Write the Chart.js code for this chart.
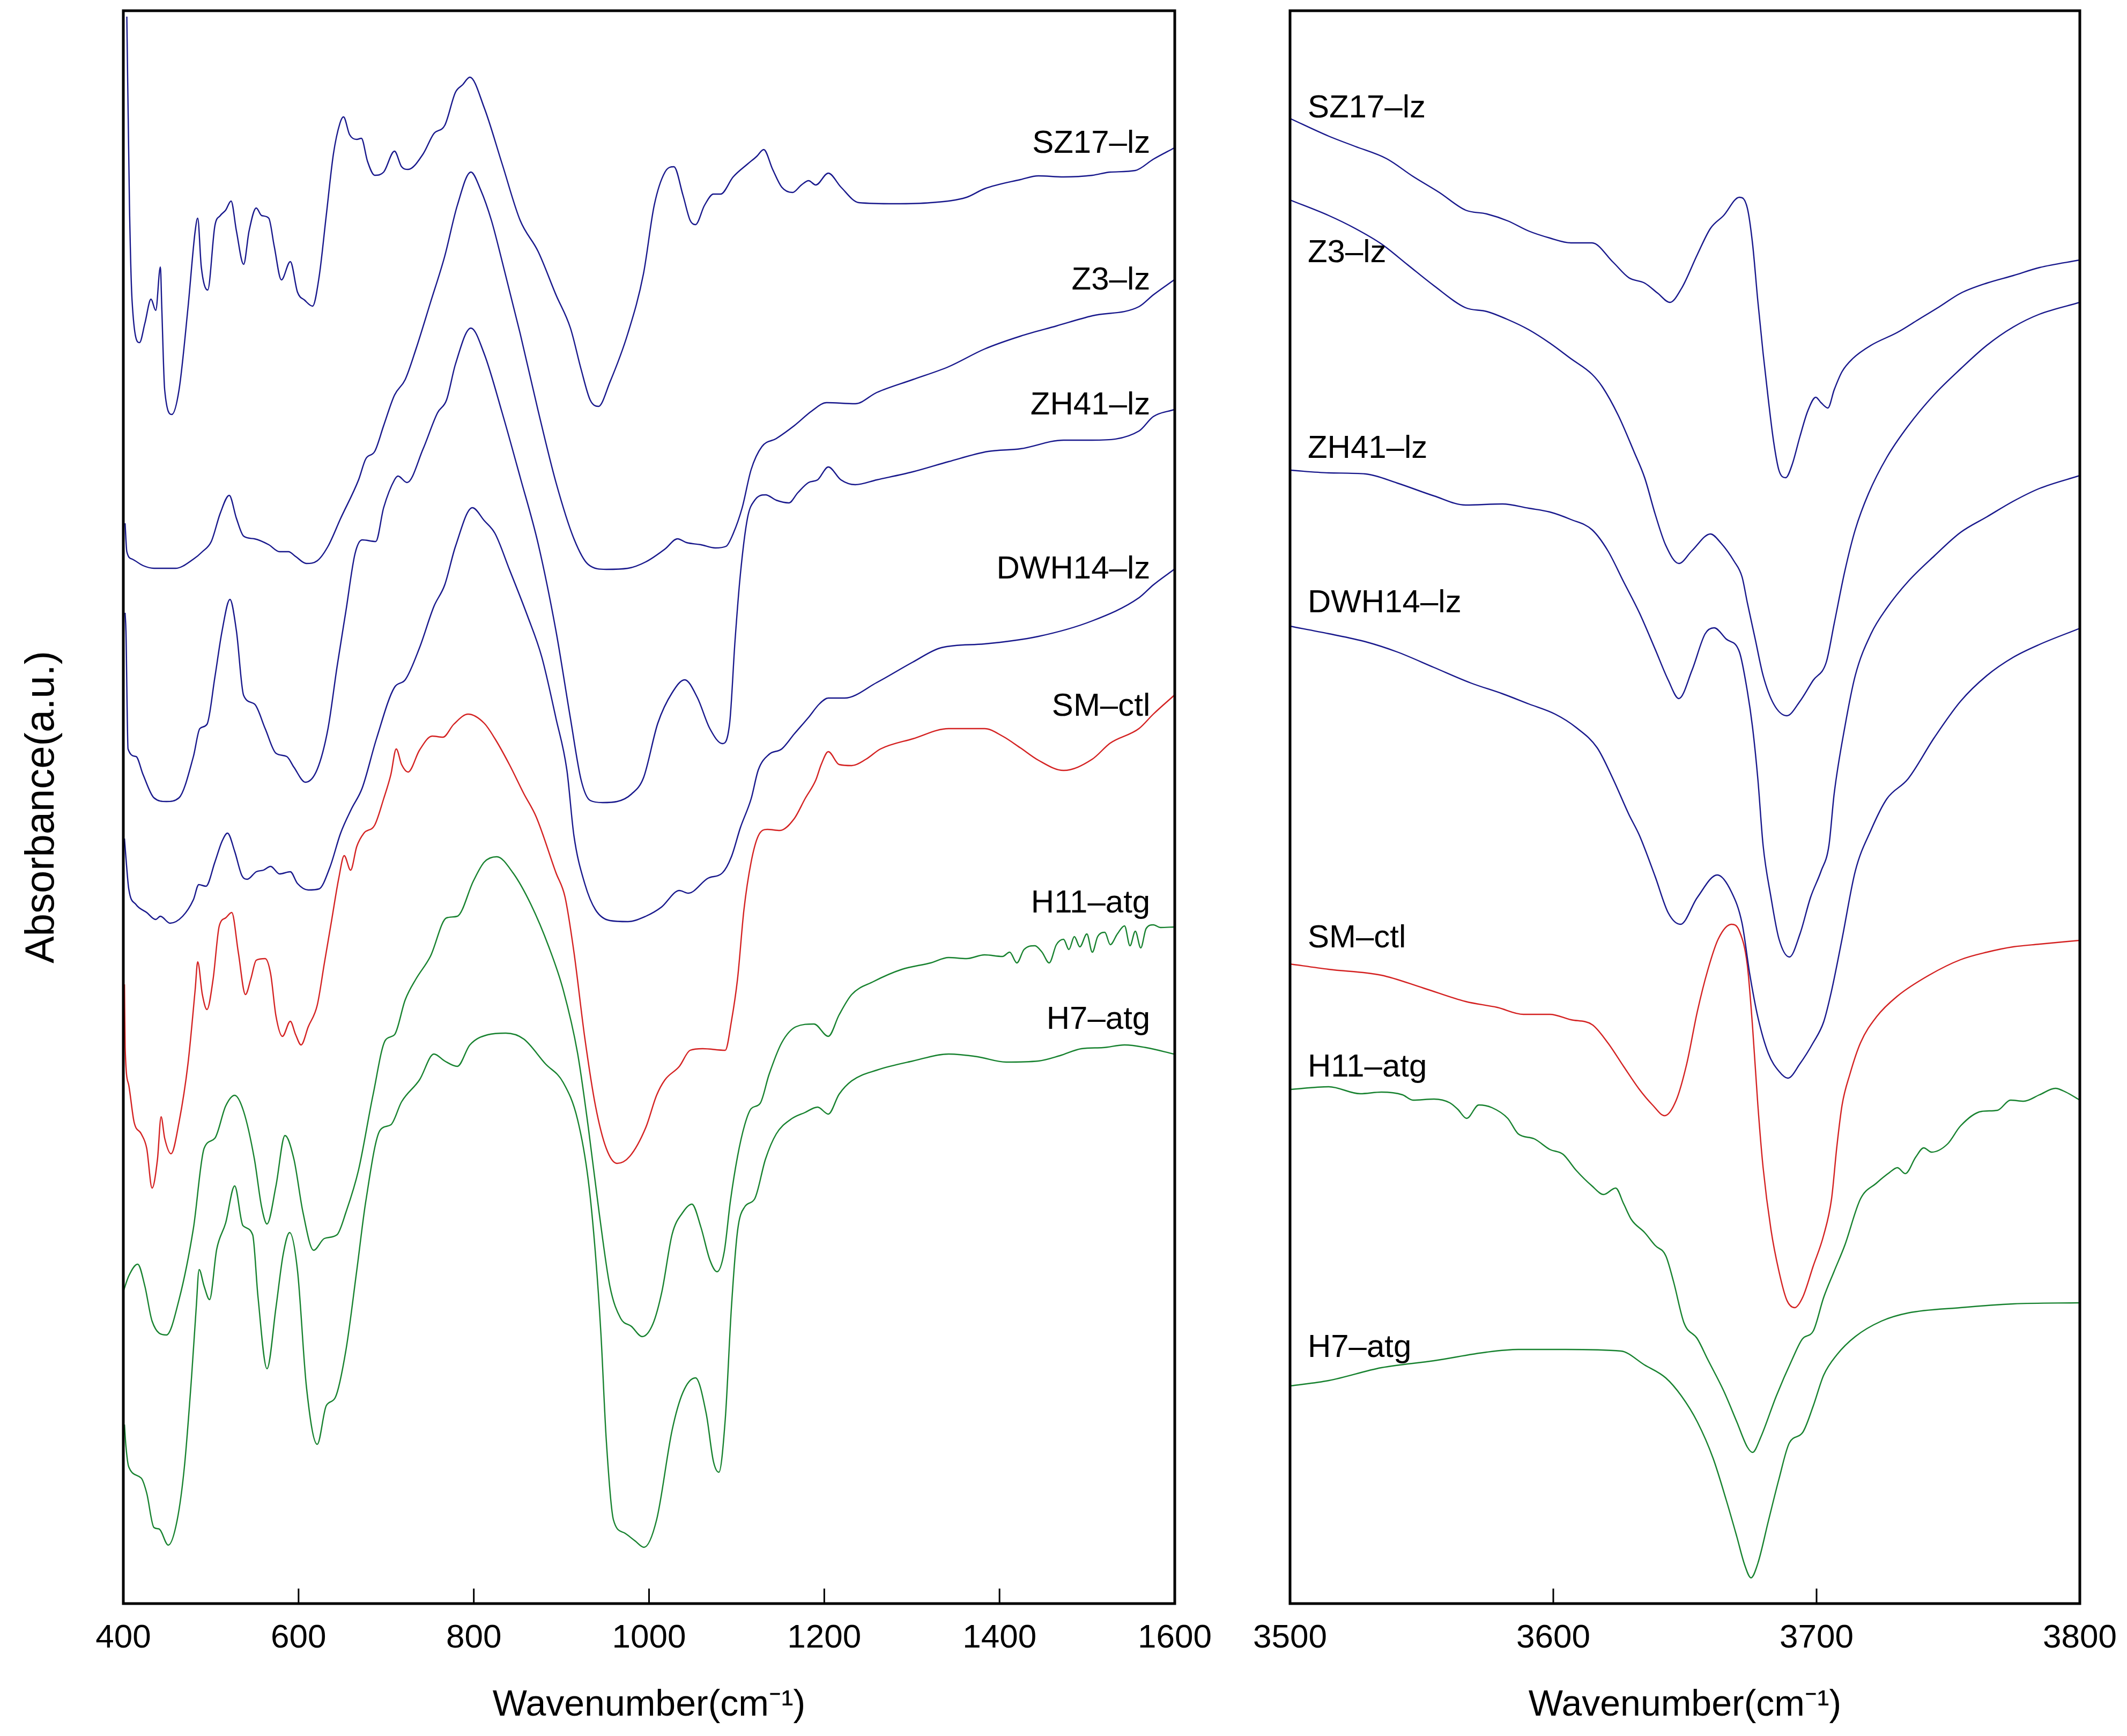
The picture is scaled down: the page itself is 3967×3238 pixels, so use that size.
<!DOCTYPE html>
<html><head><meta charset="utf-8">
<script src="https://cdn.jsdelivr.net/npm/chart.js@4.4.1/dist/chart.umd.min.js"></script>
<style>
html,body{margin:0;padding:0;background:#fff;overflow:hidden;}
#wrap{position:relative;width:3967px;height:3238px;background:#fff;}
canvas{position:absolute;top:0;}
#c1{left:0;width:2300px;height:3238px;}
#c2{left:2300px;width:1667px;height:3238px;}
</style></head><body>
<div id="wrap"><canvas id="c1" width="2300" height="3238"></canvas><canvas id="c2" width="1667" height="3238"></canvas></div>
<script>
// ---------------- DATA (wavenumber cm-1, absorbance a.u. with vertical offsets) ----------------
const seriesNames = ["SZ17\u2013lz","Z3\u2013lz","ZH41\u2013lz","DWH14\u2013lz","SM\u2013ctl","H11\u2013atg","H7\u2013atg"];
const leftTicks = [400,600,800,1000,1200,1400,1600];
const rightTicks = [3500,3600,3700,3800];

const L_SZ17 = [[404,2.96],[407,2.61],[410,2.43],[418.5,2.352],[424.6,2.388],[431.6,2.433],[437,2.412],[442.3,2.493],[443.9,2.417],[447.2,2.264],[455.4,2.218],[463.6,2.264],[473.8,2.417],[482,2.56],[484.9,2.584],[489,2.493],[496.3,2.45],[504.5,2.57],[510.7,2.589],[516.8,2.599],[523,2.616],[529.1,2.56],[537.3,2.498],[543.5,2.56],[551.7,2.603],[557.8,2.589],[566,2.584],[572.2,2.532],[580.4,2.469],[590.6,2.503],[598.8,2.446],[607,2.431],[616,2.42],[623.4,2.474],[631.6,2.589],[639.8,2.704],[647.2,2.761],[651.3,2.773],[658.2,2.74],[666.4,2.731],[671.7,2.733],[678.7,2.69],[686.9,2.664],[697.1,2.67],[709.5,2.709],[717.6,2.68],[725,2.675],[742.2,2.704],[754.5,2.742],[766.8,2.757],[779.1,2.819],[787.3,2.833],[795.5,2.847],[811.9,2.79],[832.4,2.685],[852.9,2.58],[873.4,2.522],[893.8,2.441],[910.3,2.379],[922.5,2.302],[932.8,2.245],[942.2,2.233],[955.3,2.278],[975.8,2.369],[993.6,2.48],[1005.9,2.608],[1018.2,2.67],[1028.4,2.68],[1038.7,2.627],[1046.9,2.58],[1053,2.572],[1063.3,2.608],[1073.5,2.629],[1081.7,2.629],[1096,2.661],[1112.4,2.685],[1122.7,2.699],[1130.9,2.712],[1141.1,2.675],[1151.4,2.642],[1163.7,2.632],[1173.9,2.646],[1182.1,2.654],[1190.3,2.646],[1204.6,2.668],[1219,2.642],[1239.5,2.613],[1280.5,2.611],[1321.4,2.613],[1362.4,2.623],[1382.9,2.639],[1423.9,2.656],[1444.4,2.663],[1473,2.661],[1506,2.664],[1526.4,2.67],[1555,2.673],[1575.5,2.694],[1599.3,2.715]];

const L_Z3 = [[402,2.015],[404,1.962],[410.3,1.948],[422.6,1.936],[434.9,1.931],[459.5,1.931],[479.9,1.948],[490.2,1.962],[500.4,1.981],[510.7,2.034],[520.9,2.067],[529.1,2.024],[537.3,1.991],[549.6,1.986],[566,1.975],[578.3,1.962],[588.5,1.962],[596.7,1.953],[609,1.94],[621.3,1.945],[633.6,1.972],[648,2.024],[668.5,2.096],[676.7,2.135],[686.9,2.149],[697.1,2.197],[709.5,2.254],[721.7,2.283],[734,2.34],[750.4,2.426],[766.8,2.513],[781.2,2.608],[796.7,2.67],[807.8,2.637],[820.1,2.58],[832.4,2.503],[852.9,2.369],[873.4,2.225],[893.8,2.091],[914.3,1.986],[930.7,1.938],[951.2,1.929],[975.8,1.931],[996.3,1.943],[1018.2,1.967],[1032.5,1.986],[1042.8,1.979],[1059.2,1.975],[1075.6,1.969],[1087.9,1.972],[1096.1,1.996],[1106.3,2.044],[1116.5,2.115],[1128.8,2.158],[1145.2,2.173],[1165.7,2.197],[1186.2,2.225],[1202.6,2.24],[1235.4,2.238],[1260,2.259],[1301,2.283],[1341.9,2.307],[1382.9,2.34],[1423.9,2.364],[1464.9,2.383],[1505.9,2.402],[1559.1,2.419],[1575.5,2.441],[1599.3,2.469]];

const L_ZH41 = [[402,1.848],[403,1.814],[405.4,1.594],[414.4,1.58],[422.6,1.546],[434.9,1.503],[449.2,1.496],[463.6,1.503],[480,1.58],[487.3,1.632],[495.5,1.64],[504.5,1.728],[512.7,1.814],[521.7,1.873],[529.1,1.814],[537.3,1.694],[549.6,1.678],[561.9,1.632],[574.2,1.586],[586.5,1.58],[594.7,1.56],[607.8,1.532],[621.3,1.556],[633.6,1.632],[643.9,1.747],[654.1,1.852],[664.4,1.958],[672.6,1.984],[688.1,1.981],[697.1,2.044],[709.5,2.096],[713.5,2.103],[723.8,2.091],[742.2,2.154],[758.6,2.221],[768.9,2.245],[779.1,2.312],[796.7,2.379],[811.9,2.331],[832.4,2.221],[852.9,2.101],[873.4,1.977],[893.8,1.814],[910.3,1.651],[922.5,1.536],[932.8,1.498],[947.1,1.494],[963.5,1.496],[980,1.51],[993.6,1.54],[1010,1.642],[1026.4,1.699],[1040.7,1.723],[1055.1,1.69],[1069.4,1.632],[1083.8,1.604],[1092,1.642],[1098.1,1.795],[1104.2,1.919],[1112.4,2.025],[1120.6,2.058],[1133,2.068],[1145.2,2.058],[1159.6,2.053],[1169.8,2.072],[1182.1,2.091],[1192.4,2.096],[1204.6,2.12],[1219,2.096],[1235.4,2.087],[1260,2.096],[1301,2.111],[1341.9,2.13],[1387,2.149],[1423.9,2.154],[1473.1,2.17],[1505.9,2.17],[1559.1,2.187],[1575.5,2.214],[1599.3,2.227]];

const L_DWH14 = [[401.3,1.427],[402.9,1.393],[406.2,1.333],[414.4,1.304],[426.7,1.289],[436.9,1.276],[442.3,1.282],[453.3,1.269],[467.7,1.282],[480,1.313],[486.1,1.341],[494.3,1.338],[504.5,1.383],[512.7,1.422],[518.9,1.437],[527.1,1.403],[535.3,1.358],[541.4,1.351],[551.7,1.365],[559.9,1.368],[568.1,1.375],[578.3,1.361],[590.6,1.365],[598.8,1.343],[611.1,1.331],[623.4,1.333],[635.7,1.373],[648,1.437],[660.3,1.482],[672.6,1.521],[688.9,1.613],[709.5,1.709],[721.7,1.723],[738.1,1.783],[754.5,1.86],[766.8,1.9],[779.1,1.972],[798.4,2.044],[811.9,2.02],[824.2,1.996],[840.6,1.929],[861.1,1.843],[877.5,1.766],[893.8,1.651],[906.2,1.555],[914.3,1.432],[926.6,1.343],[938.9,1.294],[955.3,1.274],[975.8,1.272],[996.3,1.282],[1014.1,1.299],[1034.6,1.33],[1044.8,1.325],[1067.4,1.353],[1083.8,1.363],[1094,1.393],[1104.2,1.447],[1116.5,1.501],[1124.7,1.555],[1137,1.584],[1151.4,1.594],[1165.7,1.622],[1182.1,1.653],[1194.4,1.678],[1204.6,1.689],[1223.1,1.689],[1260,1.718],[1301,1.756],[1333.7,1.783],[1382.9,1.79],[1444.4,1.804],[1505.9,1.833],[1559.1,1.876],[1575.5,1.9],[1599.3,1.929]];

const L_SMctl = [[401.3,1.155],[402.1,1.037],[406.2,0.967],[412.3,0.898],[420.5,0.876],[426.7,0.849],[432.8,0.775],[439,0.829],[443.1,0.908],[447.2,0.868],[454.5,0.839],[463.6,0.898],[473.8,1.007],[482,1.145],[484.9,1.197],[490.2,1.136],[495.5,1.108],[502.5,1.165],[509.5,1.264],[516.8,1.279],[523.8,1.289],[531.2,1.215],[539.4,1.136],[545.5,1.165],[551.7,1.2],[561.9,1.203],[568.1,1.175],[574.2,1.096],[581.6,1.058],[590.6,1.086],[596.7,1.061],[602.9,1.042],[611.1,1.076],[621.3,1.116],[629.5,1.195],[637.7,1.274],[645.9,1.353],[652.1,1.395],[659.4,1.368],[666.4,1.412],[674.6,1.437],[686.9,1.452],[697.1,1.501],[705.3,1.546],[711.5,1.594],[717.6,1.565],[725,1.551],[738.1,1.592],[752.5,1.618],[764.8,1.616],[777.1,1.64],[793.5,1.659],[811.9,1.642],[824.2,1.613],[840.6,1.565],[857,1.511],[871.3,1.467],[893.8,1.363],[904.1,1.318],[914.3,1.215],[926.6,1.056],[938.9,0.928],[951.2,0.849],[963.5,0.821],[977.9,0.834],[996.3,0.888],[1008.6,0.948],[1018.2,0.977],[1034.6,1.002],[1046.9,1.032],[1061.2,1.035],[1087,1.032],[1094,1.086],[1101,1.165],[1108.3,1.294],[1116.5,1.383],[1124.7,1.432],[1135,1.444],[1149.3,1.442],[1165.7,1.464],[1178,1.501],[1190.3,1.536],[1196.5,1.565],[1204.6,1.589],[1217,1.565],[1231.3,1.563],[1247.7,1.575],[1264.1,1.594],[1301,1.613],[1341.9,1.632],[1382.9,1.632],[1403.4,1.618],[1423.9,1.596],[1444.4,1.573],[1473.1,1.554],[1505.9,1.575],[1526.4,1.605],[1559.1,1.632],[1575.5,1.659],[1599.3,1.694]];

const L_H11 = [[400,0.582],[406.2,0.611],[416.4,0.633],[424.6,0.592],[432.8,0.527],[449.2,0.501],[463.6,0.567],[480,0.7],[492.2,0.849],[504.5,0.868],[516.8,0.928],[527.1,0.948],[537.3,0.918],[549.6,0.829],[557.8,0.74],[564,0.708],[574.2,0.779],[584.5,0.873],[594.7,0.829],[605,0.73],[617.2,0.659],[629.5,0.681],[643.9,0.688],[654.1,0.73],[668.5,0.809],[684.9,0.948],[699.2,1.051],[709.5,1.061],[721.7,1.126],[734,1.165],[750.4,1.207],[768.9,1.279],[781.2,1.282],[799.6,1.348],[811.9,1.383],[826.2,1.393],[844.7,1.363],[865.2,1.304],[885.6,1.225],[902,1.145],[918.4,1.027],[930.7,0.888],[943,0.73],[955.3,0.592],[967.6,0.532],[979.9,0.517],[992.2,0.498],[1004.5,0.522],[1014.7,0.582],[1026.4,0.689],[1038.7,0.73],[1048.9,0.745],[1059.2,0.702],[1069.4,0.641],[1077.6,0.619],[1085.8,0.656],[1092.8,0.75],[1101,0.834],[1109.2,0.893],[1116.5,0.923],[1126.8,0.933],[1137,0.987],[1151.4,1.046],[1167.8,1.076],[1188.3,1.081],[1204.6,1.058],[1216.9,1.098],[1231.3,1.136],[1255.9,1.16],[1288.7,1.183],[1321.4,1.195],[1341.9,1.205],[1362.4,1.203],[1382.9,1.21],[1403.4,1.207],[1411.6,1.215],[1419.8,1.195],[1428,1.22],[1440.3,1.227],[1448.5,1.215],[1456.7,1.195],[1464.9,1.229],[1473.1,1.239],[1479.2,1.22],[1485.4,1.244],[1491.7,1.225],[1499.7,1.249],[1505.9,1.215],[1512,1.244],[1520.2,1.252],[1526.4,1.229],[1534.5,1.249],[1542.7,1.264],[1548.9,1.227],[1555,1.254],[1561.2,1.223],[1567.3,1.259],[1575.5,1.266],[1583.7,1.261],[1599.3,1.262]];

const L_H7 = [[401.3,0.334],[402.9,0.295],[406.2,0.255],[420.5,0.234],[426.7,0.206],[434.9,0.142],[441,0.139],[451.3,0.109],[461.5,0.156],[469.7,0.255],[477.9,0.423],[483.2,0.552],[486.5,0.623],[492.2,0.592],[498.4,0.567],[506.6,0.661],[516.8,0.71],[527.1,0.779],[536.5,0.705],[547.6,0.688],[553.7,0.572],[564,0.438],[574.2,0.552],[582.4,0.651],[589.8,0.692],[598.8,0.621],[609,0.404],[621.3,0.297],[631.6,0.369],[641.8,0.384],[654.1,0.473],[666.4,0.621],[676.7,0.75],[693.1,0.883],[705.3,0.893],[717.6,0.936],[738.1,0.977],[754.5,1.025],[766.8,1.012],[781.2,1.002],[795.5,1.042],[816,1.061],[836.5,1.064],[857,1.053],[881.6,1.007],[902,0.972],[918.4,0.903],[930.7,0.789],[938.9,0.651],[945.1,0.503],[951.2,0.305],[959.4,0.156],[971.7,0.132],[984,0.117],[994.3,0.105],[1008.6,0.156],[1026.4,0.324],[1038.7,0.394],[1053,0.421],[1065.3,0.354],[1073.5,0.265],[1079.7,0.245],[1087,0.344],[1094,0.552],[1101,0.695],[1109.2,0.74],[1120.6,0.755],[1132.9,0.829],[1145.2,0.876],[1161.6,0.903],[1178,0.916],[1192.4,0.926],[1204.6,0.913],[1216.9,0.95],[1231.3,0.975],[1260,0.995],[1301,1.012],[1341.9,1.025],[1374.7,1.02],[1407.5,1.01],[1444.4,1.012],[1469,1.022],[1493.6,1.035],[1518.1,1.037],[1542.7,1.042],[1567.3,1.037],[1599.3,1.025]];

const R_SZ17 = [[3500,2.77],[3514.7,2.737],[3524.7,2.718],[3536.7,2.695],[3546.7,2.662],[3556.7,2.632],[3566.7,2.599],[3574.7,2.592],[3582.7,2.579],[3590.7,2.56],[3598.7,2.547],[3606.7,2.538],[3614.7,2.538],[3622.7,2.502],[3628.7,2.473],[3634.7,2.463],[3639.7,2.444],[3644.3,2.427],[3648.7,2.453],[3654.7,2.516],[3659.7,2.565],[3664.7,2.589],[3670.7,2.623],[3673.7,2.603],[3675.7,2.536],[3677.7,2.429],[3679.7,2.332],[3681.7,2.245],[3683.7,2.167],[3685.7,2.114],[3688.3,2.1],[3690.7,2.124],[3693.7,2.177],[3696.7,2.225],[3699.7,2.25],[3701.7,2.24],[3704.3,2.23],[3706.7,2.264],[3709.7,2.298],[3713.7,2.322],[3720.7,2.347],[3730.7,2.371],[3738.7,2.395],[3746.7,2.419],[3754.7,2.444],[3764.7,2.463],[3774.7,2.477],[3784.7,2.492],[3800,2.506]];

const R_Z3 = [[3500,2.618],[3514.7,2.589],[3524.7,2.565],[3534.7,2.536],[3544.7,2.497],[3554.7,2.458],[3566.7,2.417],[3574.7,2.41],[3582.7,2.395],[3590.7,2.376],[3598.7,2.351],[3606.7,2.322],[3614.7,2.293],[3618.7,2.269],[3624.7,2.216],[3630.7,2.148],[3634.7,2.1],[3638.7,2.032],[3642.7,1.974],[3647.7,1.94],[3652.7,1.964],[3659.7,1.995],[3663.7,1.978],[3668.7,1.944],[3671.7,1.915],[3673.7,1.867],[3676.7,1.799],[3679.7,1.731],[3683.7,1.678],[3688.7,1.656],[3693.7,1.683],[3698.7,1.722],[3703.7,1.756],[3706.7,1.828],[3710.7,1.925],[3714.7,2.003],[3719.7,2.07],[3726.7,2.138],[3734.7,2.196],[3744.7,2.255],[3754.7,2.303],[3764.7,2.347],[3774.7,2.381],[3784.7,2.405],[3800,2.427]];

const R_ZH41 = [[3500,2.114],[3514.7,2.109],[3528.7,2.107],[3540.7,2.09],[3554.7,2.066],[3566.7,2.049],[3580.7,2.051],[3590.7,2.043],[3598.7,2.036],[3606.7,2.022],[3614.7,2.003],[3620.7,1.964],[3626.7,1.906],[3632.7,1.848],[3638.7,1.78],[3643.7,1.722],[3647.7,1.688],[3652.7,1.741],[3657.7,1.809],[3661.1,1.82],[3665.7,1.799],[3670.7,1.775],[3673.7,1.702],[3675.7,1.634],[3677.7,1.538],[3679.7,1.414],[3682.7,1.317],[3685.7,1.24],[3689.7,1.206],[3693.7,1.249],[3697.7,1.317],[3701.7,1.366],[3704.7,1.414],[3706.7,1.511],[3710.7,1.634],[3714.7,1.731],[3720.7,1.809],[3726.7,1.857],[3734.7,1.906],[3744.7,1.954],[3754.7,1.998],[3764.7,2.027],[3774.7,2.056],[3784.7,2.08],[3800,2.104]];

const R_DWH14 = [[3500,1.823],[3514.7,1.809],[3528.7,1.794],[3540.7,1.775],[3554.7,1.746],[3568.7,1.717],[3580.7,1.697],[3590.7,1.678],[3600.7,1.659],[3608.7,1.634],[3616.7,1.596],[3622.7,1.538],[3628.7,1.472],[3632.7,1.433],[3638.7,1.356],[3643.7,1.288],[3648.3,1.267],[3654.7,1.317],[3662.3,1.359],[3667.7,1.327],[3671.7,1.269],[3674.7,1.172],[3677.7,1.094],[3681.7,1.026],[3685.7,0.993],[3689.1,0.98],[3693.7,1.007],[3698.7,1.046],[3702.7,1.085],[3705.7,1.143],[3709.7,1.24],[3714.7,1.366],[3720.7,1.443],[3726.7,1.501],[3734.7,1.538],[3744.7,1.615],[3754.7,1.683],[3764.7,1.731],[3774.7,1.765],[3784.7,1.789],[3800,1.819]];

const R_SMctl = [[3500,1.193],[3514.7,1.183],[3534.7,1.172],[3550.7,1.148],[3566.7,1.123],[3578.7,1.112],[3588.7,1.099],[3598.7,1.099],[3606.7,1.089],[3614.7,1.08],[3620.7,1.046],[3626.7,1.002],[3632.7,0.959],[3637.7,0.93],[3642.3,0.91],[3646.7,0.939],[3650.7,1.007],[3654.7,1.104],[3658.7,1.182],[3662.7,1.24],[3667.7,1.267],[3670.7,1.254],[3673.7,1.191],[3675.7,1.075],[3677.7,0.93],[3679.7,0.813],[3682.7,0.697],[3685.7,0.62],[3688.7,0.566],[3691.7,0.552],[3694.7,0.571],[3698.7,0.629],[3702.7,0.687],[3705.7,0.755],[3707.7,0.852],[3709.7,0.93],[3712.7,0.988],[3716.7,1.046],[3722.7,1.094],[3730.7,1.133],[3742.7,1.172],[3754.7,1.201],[3764.7,1.215],[3774.7,1.225],[3784.7,1.23],[3800,1.237]];

const R_H11 = [[3500,0.959],[3514.7,0.964],[3526.7,0.951],[3534.7,0.954],[3542.7,0.949],[3546.7,0.939],[3554.7,0.941],[3560.7,0.934],[3563.7,0.922],[3567.1,0.905],[3571.7,0.93],[3576.7,0.925],[3582.7,0.905],[3586.7,0.876],[3592.7,0.867],[3598.7,0.847],[3603.7,0.838],[3608.7,0.808],[3614.7,0.779],[3619.1,0.763],[3623.7,0.775],[3626.7,0.746],[3629.7,0.716],[3634.7,0.692],[3638.7,0.668],[3642.7,0.649],[3645.7,0.6],[3649.7,0.523],[3654.7,0.494],[3658.7,0.455],[3664.7,0.397],[3669.7,0.339],[3673.7,0.292],[3675.7,0.282],[3678.7,0.309],[3684.7,0.387],[3690.7,0.455],[3694.7,0.494],[3698.7,0.508],[3702.7,0.571],[3706.7,0.62],[3710.7,0.668],[3716.7,0.755],[3722.7,0.784],[3727.7,0.804],[3730.7,0.813],[3733.7,0.802],[3737.7,0.833],[3740.7,0.85],[3743.7,0.842],[3749.7,0.857],[3754.7,0.891],[3762.7,0.918],[3768.7,0.92],[3773.7,0.939],[3778.7,0.937],[3784.7,0.949],[3790.7,0.961],[3794.7,0.954],[3800,0.939]];

const R_H7 = [[3500,0.406],[3514.7,0.416],[3534.7,0.44],[3554.7,0.453],[3574.7,0.469],[3586.7,0.474],[3604.7,0.474],[3625.7,0.471],[3634.7,0.445],[3642.7,0.421],[3648.7,0.387],[3654.7,0.339],[3660.7,0.271],[3665.7,0.193],[3669.7,0.125],[3672.7,0.072],[3675.1,0.048],[3677.7,0.075],[3681.7,0.154],[3685.7,0.232],[3689.7,0.3],[3694.7,0.319],[3698.7,0.368],[3702.7,0.426],[3707.7,0.464],[3714.7,0.498],[3724.7,0.527],[3734.7,0.542],[3754.7,0.552],[3774.7,0.559],[3800,0.561]];

// label anchors (wavenumber, absorbance) for the sample names
const leftLabelAnchors = [[1572,2.723],[1572,2.468],[1572,2.235],[1572,1.929],[1572,1.673],[1572,1.306],[1572,1.089]];
const rightLabelAnchors = [[3506.7,2.789],[3506.7,2.519],[3506.7,2.154],[3506.7,1.866],[3506.7,1.241],[3506.7,1.0],[3506.7,0.477]];

// ---------------- STYLE ----------------
const BLUE = '#18188c', RED = '#d42222', GREEN = '#17822f';
const seriesColors = [BLUE, BLUE, BLUE, BLUE, RED, GREEN, GREEN];
const FONT = "'Liberation Sans', Arial, Helvetica, sans-serif";

function toXY(arr){ return arr.map(p => ({x:p[0], y:p[1]})); }
function makeDatasets(list){
  return list.map((arr,i)=>({
    label: seriesNames[i], data: toXY(arr), borderColor: seriesColors[i],
    borderWidth: 2.4, pointRadius: 0, fill: false, cubicInterpolationMode: 'monotone', tension: 0.3
  }));
}

const framePlugin = {
  id: 'frameAndLabels',
  afterDatasetsDraw(chart, args, opts){
    const {ctx, chartArea:a} = chart;
    const xs = chart.scales.x, ys = chart.scales.y;
    ctx.save();
    // inward tick marks
    ctx.strokeStyle = '#000'; ctx.lineWidth = 3;
    ctx.beginPath();
    opts.ticks.forEach(v => {
      if (v <= xs.min || v >= xs.max) return;
      const px = xs.getPixelForValue(v);
      ctx.moveTo(px, a.bottom); ctx.lineTo(px, a.bottom - 28);
    });
    ctx.stroke();
    // frame
    ctx.lineWidth = 5;
    ctx.strokeRect(a.left, a.top, a.right - a.left, a.bottom - a.top);
    // sample labels
    ctx.fillStyle = '#000';
    ctx.font = '60px ' + FONT;
    ctx.textBaseline = 'middle';
    ctx.textAlign = opts.align;
    opts.anchors.forEach((p,i) => {
      ctx.fillText(seriesNames[i], xs.getPixelForValue(p[0]), ys.getPixelForValue(p[1]));
    });
    ctx.restore();
  }
};

function buildChart(canvasId, cfg){
  return new Chart(document.getElementById(canvasId), {
    type: 'line',
    data: { datasets: makeDatasets(cfg.series) },
    plugins: [framePlugin],
    options: {
      responsive: false, animation: false, devicePixelRatio: 1,
      layout: { padding: cfg.padding },
      plugins: {
        legend: { display: false }, tooltip: { enabled: false },
        frameAndLabels: { ticks: cfg.ticks, anchors: cfg.anchors, align: cfg.align }
      },
      scales: {
        x: {
          type: 'linear', position: 'bottom', min: cfg.min, max: cfg.max,
          afterBuildTicks: s => { s.ticks = cfg.ticks.map(v => ({value: v})); },
          afterFit: s => { s.height = 247; s.paddingLeft = 0; s.paddingRight = 0; },
          grid: { display: false, drawTicks: false },
          border: { display: false },
          ticks: { color: '#000', padding: 28, maxRotation: 0, autoSkip: false,
                   font: { family: FONT, size: 62 }, callback: v => String(v) },
          title: { display: true, text: 'Wavenumber(cm\u207B\u00B9)', color: '#000',
                   font: { family: FONT, size: 68 }, padding: { top: 0, bottom: 16 } }
        },
        y: {
          type: 'linear', min: 0, max: 2.971, display: cfg.showY,
          afterFit: s => { s.width = cfg.yWidth; },
          grid: { display: false, drawTicks: false },
          border: { display: false },
          ticks: { display: false },
          title: { display: cfg.showY, text: 'Absorbance(a.u.)', color: '#000',
                   font: { family: FONT, size: 76 }, padding: { top: 33, bottom: 0 } }
        }
      }
    }
  });
}

buildChart('c1', {
  series: [L_SZ17, L_Z3, L_ZH41, L_DWH14, L_SMctl, L_H11, L_H7],
  min: 400, max: 1600, ticks: leftTicks, anchors: leftLabelAnchors, align: 'right',
  padding: { top: 20, right: 109, left: 0, bottom: 0 }, showY: true, yWidth: 230
});
buildChart('c2', {
  series: [R_SZ17, R_Z3, R_ZH41, R_DWH14, R_SMctl, R_H11, R_H7],
  min: 3500, max: 3800, ticks: rightTicks, anchors: rightLabelAnchors, align: 'left',
  padding: { top: 20, right: 88, left: 106, bottom: 0 }, showY: false, yWidth: 0
});
</script>
</body></html>
